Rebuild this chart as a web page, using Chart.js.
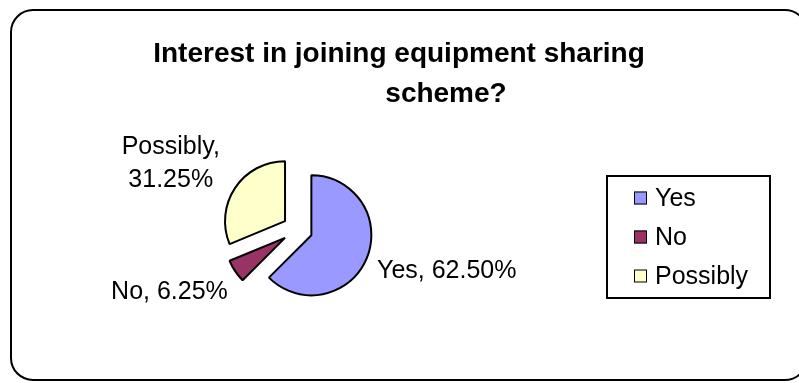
<!DOCTYPE html>
<html>
<head>
<meta charset="utf-8">
<script src="https://cdn.jsdelivr.net/npm/chart.js@4/dist/chart.umd.min.js"></script>
<style>
    html, body { margin: 0; padding: 0; background: #fff; }
    canvas { display: block; }
</style>
</head>
<body>
<canvas id="pie-interesse" width="799" height="383"></canvas>
<script>
// ───── DADOS ─────
const RESPOSTAS = ["Yes", "No", "Possibly"];
const PERCENTUAIS = [62.5, 6.25, 31.25];
const CORES = ["#9999ff", "#993366", "#ffffcc"];
const TITULO = ["Interest in joining equipment sharing", "scheme?"];

// ───── ESTILO ─────
const FONTE = '"Liberation Sans", Arial, Helvetica, sans-serif';
const RAIO = 60;
const AFASTAMENTO = 15;                    // explosão das fatias (px, ao longo da bissetriz)
const LBL_CFG = [
    { nudge: [1, 9] },
    { nudge: [1, 15] },
    { nudge: [-7, -19], quebra: true },    // "Possibly," / "31.25%"
];
const LEG = { x: 607, y: 176, w: 163, h: 122, y0: 198, passo: 39, qx: 634, tx: 655, q: 13 };

const _fmtPct = v => v.toFixed(2) + "%";

// moldura arredondada + título
const moldura = {
    id: "moldura",
    beforeDraw(chart) {
        const ctx = chart.ctx;
        const x = 11, y = 10, w = 796, h = 370, r = 22;
        ctx.save();
        ctx.fillStyle = "#fff";
        ctx.fillRect(0, 0, chart.width, chart.height);
        ctx.beginPath();
        ctx.moveTo(x + r, y);
        ctx.arcTo(x + w, y, x + w, y + h, r);
        ctx.arcTo(x + w, y + h, x, y + h, r);
        ctx.arcTo(x, y + h, x, y, r);
        ctx.arcTo(x, y, x + w, y, r);
        ctx.closePath();
        ctx.lineWidth = 2;
        ctx.strokeStyle = "#000";
        ctx.stroke();

        ctx.fillStyle = "#000";
        ctx.font = "bold 28px " + FONTE;
        ctx.textAlign = "center";
        ctx.textBaseline = "alphabetic";
        ctx.fillText(TITULO[0], 399, 62);
        ctx.fillText(TITULO[1], 446, 102);
        ctx.restore();
    }
};

// cada fatia deslocada por igual, sem aumentar o raio das pequenas
const explodir = {
    id: "explodir",
    beforeDatasetDraw(chart, args) {
        const ctx = chart.ctx;
        args.meta.data.forEach(arc => {
            const meio = (arc.startAngle + arc.endAngle) / 2;
            ctx.save();
            ctx.translate(Math.cos(meio) * AFASTAMENTO, Math.sin(meio) * AFASTAMENTO);
            arc.draw(ctx, chart.chartArea);
            ctx.restore();
        });
        return false;
    }
};

// rótulos "Categoria, xx.xx%" fora das fatias
const rotulos = {
    id: "rotulos",
    afterDatasetsDraw(chart) {
        const ctx = chart.ctx;
        const meta = chart.getDatasetMeta(0);
        ctx.save();
        ctx.font = "25px " + FONTE;
        ctx.fillStyle = "#000";
        ctx.textBaseline = "middle";
        ctx.textAlign = "center";
        meta.data.forEach((arc, i) => {
            const p = arc.getProps(["x", "y", "startAngle", "endAngle", "outerRadius"], true);
            const meio = (p.startAngle + p.endAngle) / 2;
            const dist = p.outerRadius + AFASTAMENTO + 10;
            const cfg = LBL_CFG[i];
            const ax = p.x + Math.cos(meio) * dist + cfg.nudge[0];
            const ay = p.y + Math.sin(meio) * dist + cfg.nudge[1];
            const linhas = cfg.quebra
                ? [RESPOSTAS[i] + ",", _fmtPct(PERCENTUAIS[i])]
                : [RESPOSTAS[i] + ", " + _fmtPct(PERCENTUAIS[i])];
            const larg = Math.max(...linhas.map(l => ctx.measureText(l).width));
            const cx = Math.cos(meio) >= 0 ? ax + larg / 2 : ax - larg / 2;
            const alt = 33;
            const topo = ay - (linhas.length - 1) * alt / 2;
            linhas.forEach((l, k) => ctx.fillText(l, cx, topo + k * alt));
        });
        ctx.restore();
    }
};

// legenda com caixa, à direita
const legenda = {
    id: "legenda",
    afterDraw(chart) {
        const ctx = chart.ctx;
        ctx.save();
        ctx.lineWidth = 2;
        ctx.strokeStyle = "#000";
        ctx.strokeRect(LEG.x, LEG.y, LEG.w, LEG.h);
        ctx.font = "25px " + FONTE;
        ctx.textBaseline = "middle";
        ctx.textAlign = "left";
        RESPOSTAS.forEach((r, i) => {
            const cy = LEG.y0 + i * LEG.passo;
            ctx.fillStyle = CORES[i];
            ctx.fillRect(LEG.qx, cy - LEG.q / 2, LEG.q, LEG.q);
            ctx.lineWidth = 1;
            ctx.strokeRect(LEG.qx + 0.5, cy - LEG.q / 2 + 0.5, LEG.q - 1, LEG.q - 1);
            ctx.fillStyle = "#000";
            ctx.fillText(r, LEG.tx, cy + 1);
        });
        ctx.restore();
    }
};

new Chart(document.getElementById("pie-interesse").getContext("2d"), {
    type: "pie",
    data: {
        labels: RESPOSTAS,
        datasets: [{
            data: PERCENTUAIS,
            backgroundColor: CORES,
            borderColor: "#000",
            borderWidth: 2,
            offset: 0,
            hoverOffset: 0,
        }]
    },
    options: {
        responsive: false,
        animation: false,
        radius: RAIO,
        layout: { padding: { left: 197.5, right: 401.5, top: 129.5, bottom: 53.5 } },
        plugins: {
            legend: { display: false },
            title: { display: false },
            tooltip: { enabled: false },
        }
    },
    plugins: [moldura, explodir, rotulos, legenda]
});
</script>
</body>
</html>
